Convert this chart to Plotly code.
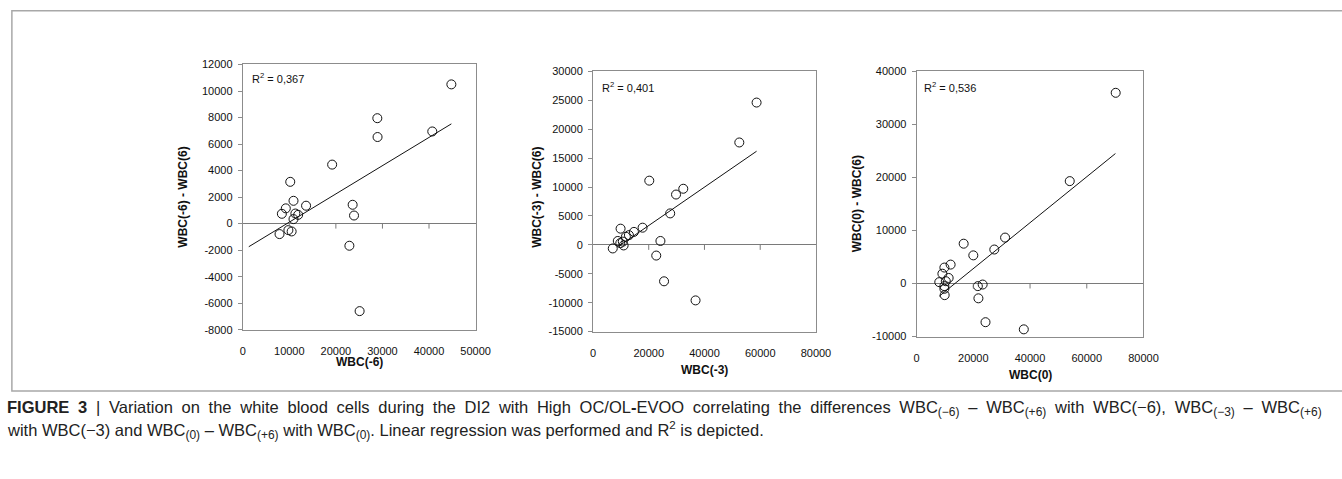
import plotly.graph_objects as go

W, H = 1342, 479

# ---------------- data ----------------
p1_x = [44800, 28900, 28950, 40700, 19200, 10200, 10900, 9250, 8400, 11300,
        11900, 10900, 13600, 23600, 23900, 7900, 9800, 10500, 22900, 25100]
p1_y = [10500, 7950, 6530, 6950, 4450, 3150, 1720, 1150, 740, 760,
        660, 340, 1350, 1420, 610, -790, -490, -590, -1670, -6600]

p2_x = [58700, 52500, 20200, 32400, 29800, 27700, 17800, 14700, 9900, 12900,
        11800, 8900, 10700, 11000, 7100, 24200, 22700, 25500, 36800, 9800]
p2_y = [24600, 17700, 11100, 9700, 8700, 5440, 2970, 2240, 2800, 1680,
        1400, 670, 560, -100, -620, 670, -1850, -6300, -9600, 300]

p3_x = [70200, 54000, 31200, 27400, 16600, 20000, 12000, 9800, 9100, 11300,
        8000, 10300, 9800, 9800, 9900, 21600, 23300, 21800, 24300, 37800]
p3_y = [35950, 19300, 8650, 6400, 7500, 5300, 3560, 3000, 1840, 1040,
        250, 430, -500, -1000, -2200, -500, -200, -2800, -7300, -8650]

trend_slope = [0.213, 0.332, 0.433]
trend_intercept = [-2020, -3300, -5860]
trend_x = [[1300, 44800], [9100, 58700], [8000, 70100]]
r2_labels = ["0,367", "0,401", "0,536"]

x_titles = ["WBC(-6)", "WBC(-3)", "WBC(0)"]
y_titles = ["WBC(-6) - WBC(6)", "WBC(-3) - WBC(6)", "WBC(0) - WBC(6)"]

x_tickvals = [[0, 10000, 20000, 30000, 40000, 50000],
              [0, 20000, 40000, 60000, 80000],
              [0, 20000, 40000, 60000, 80000]]
y_tickvals = [[-8000, -6000, -4000, -2000, 0, 2000, 4000, 6000, 8000, 10000, 12000],
              [-15000, -10000, -5000, 0, 5000, 10000, 15000, 20000, 25000, 30000],
              [-10000, 0, 10000, 20000, 30000, 40000]]

SUB = '<sub><span style="font-size:12px">{}</span></sub>'
caption_words1 = ["<b>FIGURE", "3</b>", "|", "Variation", "on", "the", "white", "blood", "cells",
                  "during", "the", "DI2", "with", "High", "OC/OL<b>-</b>EVOO", "correlating", "the",
                  "differences", "WBC" + SUB.format("(\u22126)"), "\u2013", "WBC" + SUB.format("(+6)"),
                  "with", "WBC(\u22126),", "WBC" + SUB.format("(\u22123)"), "\u2013", "WBC" + SUB.format("(+6)")]
caption_line2 = ("with WBC(\u22123) and WBC" + SUB.format("(0)") + " \u2013 WBC" + SUB.format("(+6)") +
                 " with WBC" + SUB.format("(0)") + ". Linear regression was performed and R<sup>2</sup> is depicted.")
# first line is justified in the original -> widen the word gaps
caption_line1 = " \u2005".join(caption_words1)

# ---------------- layout geometry (pixels) ----------------
plot_px = [  # left, right, top, bottom
    (243, 479, 60, 332),
    (598, 824, 67, 334),
    (926, 1156, 67, 339),
]
ytitle_px = [(183, 196), (541, 196), (866, 203)]
xtitle_px = [(361, 365), (711, 373), (1041, 378)]
r2_px = [(250, 74), (605, 83), (932, 83)]

def fx(px):
    return px / W

def fy(py):
    return 1 - py / H

TICK_FONT = dict(family="Liberation Sans, Arial, sans-serif", size=11, color="#111")
TITLE_FONT = dict(family="Liberation Sans, Arial, sans-serif", size=12, color="#111")
BOX = "#8c8c8c"

fig = go.Figure()
xs = [p1_x, p2_x, p3_x]
ys = [p1_y, p2_y, p3_y]
shapes = []
annotations = []

for i in range(3):
    n = "" if i == 0 else str(i + 1)
    xa, ya = "x" + n, "y" + n
    fig.add_trace(go.Scatter(
        x=xs[i], y=ys[i], mode="markers", xaxis=xa, yaxis=ya,
        marker=dict(symbol="circle-open", size=9, color="#111", line=dict(width=1, color="#111")),
        showlegend=False, hoverinfo="skip"))
    tx = trend_x[i]
    ty = [trend_slope[i] * v + trend_intercept[i] for v in tx]
    fig.add_trace(go.Scatter(
        x=tx, y=ty, mode="lines", xaxis=xa, yaxis=ya,
        line=dict(color="#111", width=1), showlegend=False, hoverinfo="skip"))

    l, r, t, b = plot_px[i]
    xv, yv = x_tickvals[i], y_tickvals[i]
    fig.layout["xaxis" + n] = dict(
        domain=[fx(l), fx(r)], range=[xv[0], xv[-1]],
        tickmode="array", tickvals=xv, ticktext=[str(v) for v in xv],
        anchor=ya, showgrid=False, zeroline=False, showline=True, mirror=True,
        linecolor=BOX, linewidth=1, ticks="", ticklabelstandoff=11,
        tickfont=TICK_FONT, fixedrange=True)
    fig.layout["yaxis" + n] = dict(
        domain=[fy(b), fy(t)], range=[yv[0], yv[-1]],
        tickmode="array", tickvals=yv, ticktext=[str(v) for v in yv],
        anchor=xa, showgrid=False, zeroline=True, zerolinecolor="#7a7a7a", zerolinewidth=1.3,
        showline=True, mirror=True, linecolor=BOX, linewidth=1,
        ticks="outside", ticklen=4, tickcolor=BOX, ticklabelstandoff=3,
        tickfont=TICK_FONT, fixedrange=True)

    # tick marks on the horizontal zero line (Excel style, pointing down)
    for v in xv[1:-1]:
        shapes.append(dict(type="line", xref=xa, yref=ya, ysizemode="pixel", yanchor=0,
                           x0=v, x1=v, y0=0, y1=-5, line=dict(color="#7a7a7a", width=1)))

    annotations.append(dict(text="R<sup>2</sup> = " + r2_labels[i], xref="paper", yref="paper",
                            x=fx(r2_px[i][0]), y=fy(r2_px[i][1]), xanchor="left", yanchor="middle",
                            showarrow=False, font=dict(TICK_FONT, size=11)))
    annotations.append(dict(text="<b>" + y_titles[i] + "</b>", xref="paper", yref="paper",
                            x=fx(ytitle_px[i][0]), y=fy(ytitle_px[i][1]), xanchor="center", yanchor="middle",
                            textangle=-90, showarrow=False, font=TITLE_FONT))
    annotations.append(dict(text="<b>" + x_titles[i] + "</b>", xref="paper", yref="paper",
                            x=fx(xtitle_px[i][0]), y=fy(xtitle_px[i][1]), xanchor="center", yanchor="middle",
                            showarrow=False, font=TITLE_FONT))

CAP_FONT = dict(family="Liberation Sans, Arial, sans-serif", size=16.5, color="#222")
annotations.append(dict(text=caption_line1, xref="paper", yref="paper", x=fx(2), y=fy(413),
                        xanchor="left", yanchor="middle", showarrow=False, font=CAP_FONT))
annotations.append(dict(text=caption_line2, xref="paper", yref="paper", x=fx(2), y=fy(435),
                        xanchor="left", yanchor="middle", showarrow=False, font=CAP_FONT))

# outer frame of the figure panel
shapes.append(dict(type="rect", xref="paper", yref="paper", x0=fx(9), x1=1.02, y0=fy(395), y1=fy(5),
                   line=dict(color="#a8a8a8", width=1.5), fillcolor="rgba(0,0,0,0)", layer="below"))

fig.update_layout(width=W, height=H, margin=dict(l=0, r=0, t=0, b=0),
                  paper_bgcolor="white", plot_bgcolor="white",
                  shapes=shapes, annotations=annotations)

fig.write_html("out.html", config={"displayModeBar": False},
               post_script="document.body.style.margin='0';document.body.style.overflow='hidden';")
